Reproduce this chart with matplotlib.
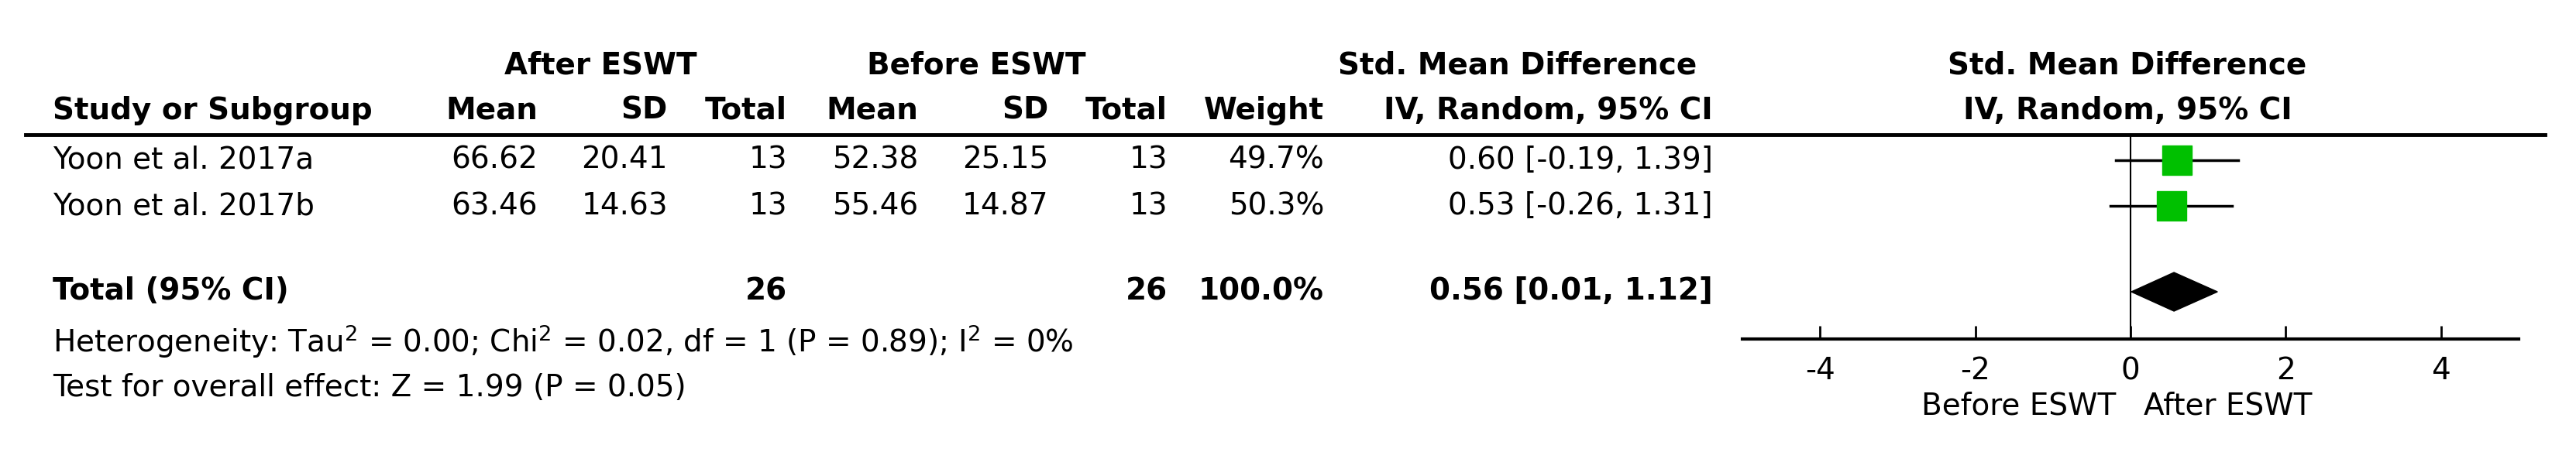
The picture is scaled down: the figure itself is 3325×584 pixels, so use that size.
import matplotlib.pyplot as plt
from matplotlib.patches import Polygon

# data
studies = ['Yoon et al. 2017a', 'Yoon et al. 2017b']
after_mean = ['66.62', '63.46']
after_sd = ['20.41', '14.63']
after_n = ['13', '13']
before_mean = ['52.38', '55.46']
before_sd = ['25.15', '14.87']
before_n = ['13', '13']
weights = ['49.7%', '50.3%']
smd = [0.60, 0.53]
ci_lo = [-0.19, -0.26]
ci_hi = [1.39, 1.31]
total_smd, total_lo, total_hi = 0.56, 0.01, 1.12
ticks = [-4, -2, 0, 2, 4]

W, H = 3325, 584
fig = plt.figure(figsize=(W / 100, H / 100), dpi=100)
ax = fig.add_axes([0, 0, 1, 1])
ax.set_xlim(0, W)
ax.set_ylim(H, 0)
ax.axis('off')

fs = 28
kw = dict(fontsize=fs, va='center', family='DejaVu Sans')
bold = dict(kw, fontweight='bold')

# header
ax.text(775, 84, 'After ESWT', ha='center', **bold)
ax.text(1260, 84, 'Before ESWT', ha='center', **bold)
ax.text(1959, 84, 'Std. Mean Difference', ha='center', **bold)
ax.text(2746, 84, 'Std. Mean Difference', ha='center', **bold)
ax.text(68, 143, 'Study or Subgroup', ha='left', **bold)
cols = [(694, 'Mean'), (862, 'SD'), (1016, 'Total'), (1185, 'Mean'),
        (1353, 'SD'), (1507, 'Total'), (1709, 'Weight')]
for x, t in cols:
    ax.text(x, 143, t, ha='right', **bold)
ax.text(2211, 143, 'IV, Random, 95% CI', ha='right', **bold)
ax.text(2746, 143, 'IV, Random, 95% CI', ha='center', **bold)
ax.plot([33, 3285], [174, 174], color='black', lw=3.5)

rows_y = [207, 266]
for i, y in enumerate(rows_y):
    ax.text(68, y, studies[i], ha='left', **kw)
    vals = [after_mean[i], after_sd[i], after_n[i], before_mean[i],
            before_sd[i], before_n[i], weights[i]]
    for (x, _), v in zip(cols, vals):
        ax.text(x, y, v, ha='right', **kw)
    ax.text(2211, y, f'{smd[i]:.2f} [{ci_lo[i]:.2f}, {ci_hi[i]:.2f}]',
            ha='right', **kw)

ax.text(68, 376, 'Total (95% CI)', ha='left', **bold)
ax.text(1016, 376, '26', ha='right', **bold)
ax.text(1507, 376, '26', ha='right', **bold)
ax.text(1709, 376, '100.0%', ha='right', **bold)
ax.text(2211, 376, f'{total_smd:.2f} [{total_lo:.2f}, {total_hi:.2f}]', ha='right', **bold)
ax.text(68, 441, 'Heterogeneity: Tau$^2$ = 0.00; Chi$^2$ = 0.02, df = 1 (P = 0.89); I$^2$ = 0%',
        ha='left', **kw)
ax.text(68, 501, 'Test for overall effect: Z = 1.99 (P = 0.05)', ha='left', **kw)

# forest plot axes: x -5..5 over px 2249..3251, y px 174..438
ax2 = fig.add_axes([2249 / W, 1 - 438 / H, (3251 - 2249) / W, (438 - 174) / H])
ax2.set_xlim(-5, 5)
ax2.set_ylim(438, 174)
ax2.patch.set_alpha(0)
for s in ['top', 'left', 'right']:
    ax2.spines[s].set_visible(False)
ax2.spines['bottom'].set_linewidth(3)
ax2.set_yticks([])
ax2.set_xticks(ticks)
ax2.set_xticklabels([str(t) for t in ticks])
ax2.tick_params(axis='x', direction='in', length=12, width=2, labelsize=fs, pad=16)
ax2.axvline(0, color='black', lw=1.5)

for i, y in enumerate(rows_y):
    ax2.plot([ci_lo[i], ci_hi[i]], [y, y], color='black', lw=2.5)
    ax2.plot(smd[i], y, marker='s', ms=27, color='#00c000', mec='#00c000')
diamond = Polygon([[total_lo, 377], [total_smd, 352], [total_hi, 377], [total_smd, 402]],
                  closed=True, color='black')
ax2.add_patch(diamond)

ax.text(2731, 524, 'Before ESWT', ha='right', **kw)
ax.text(2767, 524, 'After ESWT', ha='left', **kw)

fig.savefig('out.png', dpi=100)
